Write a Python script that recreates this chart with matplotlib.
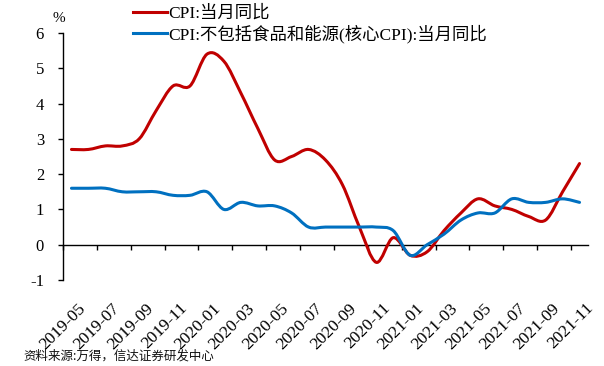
import matplotlib
matplotlib.use('Agg')
import matplotlib.pyplot as plt
from matplotlib.path import Path
from matplotlib.patches import PathPatch
from matplotlib.lines import Line2D
from matplotlib.font_manager import FontProperties
from matplotlib.transforms import ScaledTranslation
import numpy as np

months = ['2019-05', '2019-06', '2019-07', '2019-08', '2019-09', '2019-10', '2019-11', '2019-12',
          '2020-01', '2020-02', '2020-03', '2020-04', '2020-05', '2020-06', '2020-07', '2020-08',
          '2020-09', '2020-10', '2020-11', '2020-12', '2021-01', '2021-02', '2021-03', '2021-04',
          '2021-05', '2021-06', '2021-07', '2021-08', '2021-09', '2021-10', '2021-11']
cpi = [2.7, 2.7, 2.8, 2.8, 3.0, 3.8, 4.5, 4.5, 5.4, 5.2, 4.3, 3.3, 2.4, 2.5, 2.7, 2.4,
       1.7, 0.5, -0.5, 0.2, -0.3, -0.2, 0.4, 0.9, 1.3, 1.1, 1.0, 0.8, 0.7, 1.5, 2.3]
core = [1.6, 1.6, 1.6, 1.5, 1.5, 1.5, 1.4, 1.4, 1.5, 1.0, 1.2, 1.1, 1.1, 0.9, 0.5, 0.5,
        0.5, 0.5, 0.5, 0.4, -0.3, 0.0, 0.3, 0.7, 0.9, 0.9, 1.3, 1.2, 1.2, 1.3, 1.2]
yticks = [-1, 0, 1, 2, 3, 4, 5, 6]
labels = ['CPI:当月同比', 'CPI:不包括食品和能源(核心CPI):当月同比']
colors = ['#C00000', '#0070C0']

serif = ['Liberation Serif', 'Noto Sans CJK SC']


def smooth_path(x, y):
    pts = np.column_stack([x, y]).astype(float)
    n = len(pts)
    verts = [pts[0]]
    codes = [Path.MOVETO]
    for i in range(n - 1):
        p0 = pts[i - 1] if i > 0 else pts[i]
        p1 = pts[i]
        p2 = pts[i + 1]
        p3 = pts[i + 2] if i + 2 < n else pts[i + 1]
        verts += [p1 + (p2 - p0) / 6.0, p2 - (p3 - p1) / 6.0, p2]
        codes += [Path.CURVE4] * 3
    return Path(verts, codes)


fig = plt.figure(figsize=(6.04, 3.66), dpi=100)
ax = fig.add_axes([63 / 604, 1 - 280 / 366, (588 - 63) / 604, (280 - 33) / 366])

x = np.arange(len(months))
for series, c in zip([cpi, core], colors):
    ax.add_patch(PathPatch(smooth_path(x, series), facecolor='none', edgecolor=c,
                           lw=2.2, capstyle='round', joinstyle='round', zorder=3))

ax.set_xlim(-0.5, len(months) - 0.5)
ax.set_ylim(-1, 6)

for s in ['top', 'right']:
    ax.spines[s].set_visible(False)
ax.spines['bottom'].set_position(('data', 0))
for s in ['left', 'bottom']:
    ax.spines[s].set_linewidth(1.0)
    ax.spines[s].set_color('black')

ax.set_yticks(yticks)
ax.set_yticklabels([str(v) for v in yticks], fontfamily='Liberation Serif', fontsize=12)
ax.tick_params(axis='y', direction='out', length=3.6, width=1.0, pad=10)

ax.set_xticks(x[::2])
ax.set_xticklabels(months[::2], fontfamily='Liberation Serif', fontsize=12.5,
                   rotation=45, ha='right', va='top', rotation_mode='anchor')
ax.tick_params(axis='x', which='major', length=0, pad=40)
ax.set_xticks(np.arange(-0.5, len(months) - 0.5, 2), minor=True)
ax.tick_params(axis='x', which='minor', direction='out', length=3.6, width=1.0)
offset = ScaledTranslation(6 / 100, 0, fig.dpi_scale_trans)
for lab in ax.get_xticklabels():
    lab.set_transform(lab.get_transform() + offset)

fig.text(59 / 604, 1 - 18 / 366, '%', fontfamily='Liberation Serif', fontsize=11,
         ha='center', va='center')

handles = [Line2D([], [], color=c, lw=2.2) for c in colors]
fig.legend(handles, labels, loc='upper left', bbox_to_anchor=(133 / 604, 0.986),
           frameon=False, borderpad=0, borderaxespad=0, handlelength=1.96,
           handletextpad=0.08, labelspacing=0.15,
           prop=FontProperties(family=serif, size=12.5))

fig.text(23 / 604, 1 - 356 / 366, '资料来源:万得，信达证券研发中心',
         fontfamily=['Noto Sans CJK SC', 'DejaVu Sans'], fontsize=9, style='italic',
         ha='left', va='center', color='#111111')

fig.savefig('out.png', dpi=100)
